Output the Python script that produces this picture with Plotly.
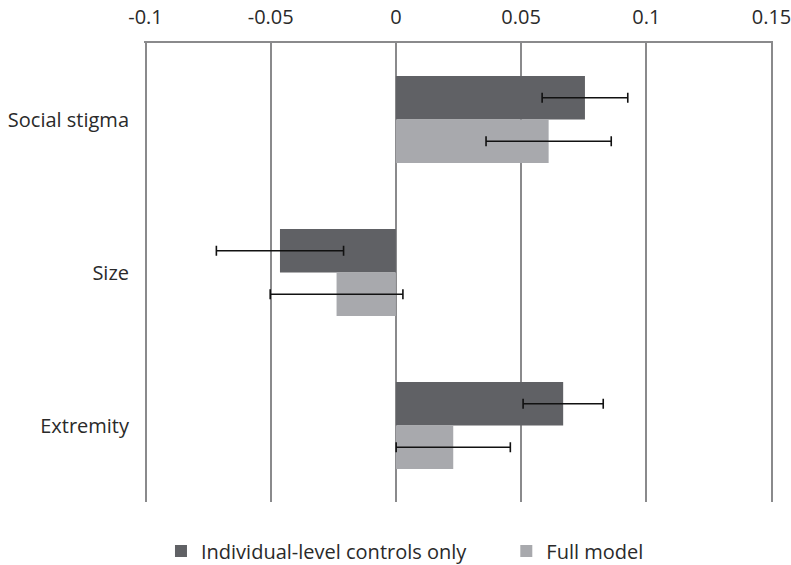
import plotly.graph_objects as go

categories = ["Social stigma", "Size", "Extremity"]
controls_only = [0.0755, -0.0463, 0.0668]
controls_only_err = [0.0171, 0.0254, 0.0160]
full_model = [0.0610, -0.0237, 0.0229]
full_model_err = [0.0250, 0.0265, 0.0228]
tick_vals = [-0.1, -0.05, 0, 0.05, 0.1, 0.15]
tick_text = ["-0.1", "-0.05", "0", "0.05", "0.1", "0.15"]

FONT = "Open Sans"
TXT = "#2a2a2a"
GRID = "#8a8a8c"
FS = 20

fig = go.Figure()
fig.add_trace(go.Bar(
    y=categories, x=controls_only, orientation="h",
    name="Individual-level controls only", legend="legend",
    marker=dict(color="#606165", line=dict(width=0)),
    error_x=dict(type="data", array=controls_only_err, color="#111111", thickness=1.6, width=5),
))
fig.add_trace(go.Bar(
    y=categories, x=full_model, orientation="h",
    name="Full model", legend="legend2",
    marker=dict(color="#a8a9ad", line=dict(width=0)),
    error_x=dict(type="data", array=full_model_err, color="#111111", thickness=1.6, width=5),
))

legend_common = dict(orientation="h", xanchor="left", y=-0.107, yanchor="middle",
                     font=dict(family=FONT, size=FS, color=TXT), itemwidth=30,
                     bgcolor="rgba(0,0,0,0)")

fig.update_layout(
    width=791, height=565,
    margin=dict(l=144, r=18, t=43, b=63, autoexpand=False),
    paper_bgcolor="white", plot_bgcolor="white",
    barmode="group", bargap=0.43, bargroupgap=0,
    font=dict(family=FONT, size=FS, color=TXT),
    showlegend=True,
    legend=dict(x=0.027, **legend_common),
    legend2=dict(x=0.576, **legend_common),
    xaxis=dict(
        side="top", range=[-0.1006, 0.1506], tickvals=tick_vals, ticktext=tick_text,
        showgrid=True, gridcolor=GRID, gridwidth=1.5,
        zeroline=True, zerolinecolor=GRID, zerolinewidth=1.5,
        showline=True, linecolor=GRID, linewidth=1.5,
        ticks="", ticklabelstandoff=9, automargin=False,
        ticklabeloverflow="allow",
        tickfont=dict(family=FONT, size=FS, color=TXT),
    ),
    yaxis=dict(
        categoryorder="array", categoryarray=categories, autorange="reversed",
        showgrid=False, zeroline=False, showline=False, ticks="",
        ticklabelstandoff=14, automargin=False,
        tickfont=dict(family=FONT, size=FS, color=TXT),
    ),
)

fig.write_html("out.html",
               config={"displayModeBar": False},
               post_script="document.body.style.margin='0';document.body.style.overflow='hidden';")
